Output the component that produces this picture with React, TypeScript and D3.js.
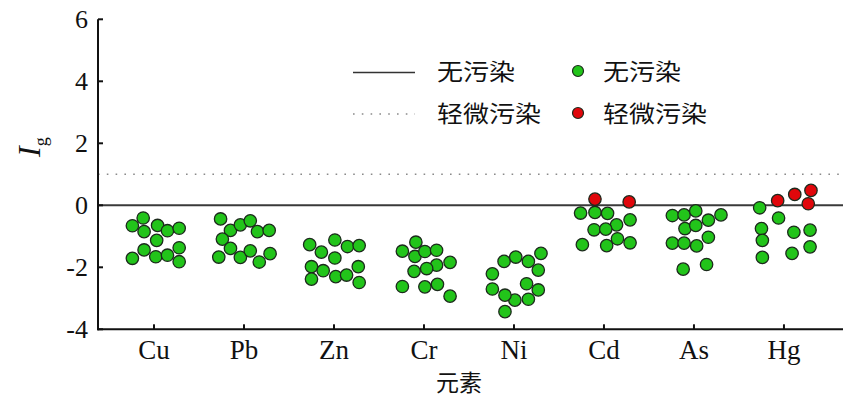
import * as d3 from "d3";

const ELEMENTS = ["Cu", "Pb", "Zn", "Cr", "Ni", "Cd", "As", "Hg"];

// Igeo values per element
const CU = [-0.66, -0.41, -0.85, -0.65, -0.82, -0.74, -1.13, -1.44, -1.71, -1.66, -1.61, -1.37, -1.82];
const PB = [-0.44, -0.81, -0.63, -0.5, -0.85, -0.81, -1.09, -1.39, -1.67, -1.68, -1.47, -1.83, -1.56];
const ZN = [-1.27, -1.51, -1.12, -1.33, -1.3, -1.7, -1.98, -2.11, -2.38, -2.3, -2.25, -1.98, -2.49];
const CR = [-1.19, -1.48, -1.65, -1.49, -1.45, -1.84, -1.93, -2.04, -2.13, -2.62, -2.63, -2.55, -2.93];
const NI = [-2.21, -1.81, -1.67, -1.81, -1.55, -2.09, -2.53, -2.73, -3.03, -3.06, -2.9, -2.7, -3.43];
const CD = [0.2, 0.11, -0.25, -0.23, -0.26, -0.63, -0.47, -0.79, -0.77, -1.08, -1.27, -1.3, -1.21];
const AS = [-0.33, -0.31, -0.18, -0.48, -0.31, -0.75, -0.65, -1.03, -1.22, -1.22, -1.31, -2.06, -1.91];
const HG = [0.15, 0.35, 0.48, 0.05, -0.08, -0.41, -0.75, -1.13, -1.68, -0.87, -0.8, -1.55, -1.34];

// horizontal jitter of each sample, in category units
const CU_J = [-0.24, -0.12, -0.11, 0.04, 0.15, 0.28, 0.03, -0.11, -0.24, 0.02, 0.15, 0.28, 0.28];
const PB_J = [-0.26, -0.15, -0.04, 0.07, 0.15, 0.28, -0.24, -0.15, -0.28, -0.04, 0.07, 0.17, 0.29];
const ZN_J = [-0.27, -0.14, 0.01, 0.15, 0.28, 0.01, -0.25, -0.12, -0.25, 0.02, 0.14, 0.27, 0.28];
const CR_J = [-0.09, -0.24, -0.1, 0.01, 0.14, 0.29, 0.14, 0.03, -0.11, -0.24, 0.01, 0.15, 0.29];
const NI_J = [-0.24, -0.11, 0.02, 0.16, 0.3, 0.27, 0.14, 0.27, 0.16, 0.01, -0.1, -0.24, -0.1];
const CD_J = [-0.1, 0.28, -0.26, -0.1, 0.04, 0.14, 0.29, -0.11, 0.02, 0.15, -0.24, 0.03, 0.29];
const AS_J = [-0.24, -0.11, 0.02, 0.16, 0.3, -0.1, 0.02, 0.16, -0.24, -0.11, 0.03, -0.12, 0.14];
const HG_J = [-0.07, 0.12, 0.3, 0.27, -0.27, -0.06, -0.25, -0.24, -0.24, 0.11, 0.29, 0.09, 0.29];

const VALUES = [CU, PB, ZN, CR, NI, CD, AS, HG];
const JITTER = [CU_J, PB_J, ZN_J, CR_J, NI_J, CD_J, AS_J, HG_J];

const Y_TICKS = [-4, -2, 0, 2, 4, 6];
const CLEAN_LEVEL = 0;
const SLIGHT_LEVEL = 1;
const LEGEND = ["无污染", "轻微污染"];

const GREEN = "#22c41a";
const RED = "#e0070b";
const SERIF = "'Liberation Serif', 'Times New Roman', serif";
const CJK = "'Noto Sans CJK SC', sans-serif";

export default function App() {
  const width = 850;
  const height = 399;
  const x = d3.scaleLinear().domain([-0.622, 7.656]).range([98, 843]);
  const y = d3.scaleLinear().domain([-4, 6]).range([329.3, 19.3]);

  const points = VALUES.flatMap((vals, i) =>
    vals.map((v, k) => ({ cx: x(i + JITTER[i][k]), cy: y(v), dirty: v > CLEAN_LEVEL }))
  );

  return (
    <svg width={width} height={height} style={{ position: "absolute", left: 0, top: 0, background: "#fff" }}>
      {/* reference lines */}
      <line x1={x.range()[0]} x2={x.range()[1]} y1={y(SLIGHT_LEVEL)} y2={y(SLIGHT_LEVEL)}
        stroke="#8a8a8a" strokeWidth={1.6} strokeDasharray="1.6,7.2" />
      <line x1={x.range()[0]} x2={x.range()[1]} y1={y(CLEAN_LEVEL)} y2={y(CLEAN_LEVEL)}
        stroke="#3a3a3a" strokeWidth={2} />

      {/* axes */}
      <line x1={98} x2={98} y1={y(6)} y2={y(-4) + 1} stroke="#111" strokeWidth={2} />
      <line x1={97} x2={x.range()[1]} y1={y(-4)} y2={y(-4)} stroke="#111" strokeWidth={2} />
      {Y_TICKS.map((t) => (
        <g key={t}>
          <line x1={98} x2={103} y1={y(t)} y2={y(t)} stroke="#111" strokeWidth={2} />
          <text x={88} y={y(t)} dy="0.35em" textAnchor="end" fontFamily={SERIF} fontSize={26} fill="#111">
            {t}
          </text>
        </g>
      ))}
      {ELEMENTS.map((e, i) => (
        <g key={e}>
          <line x1={x(i)} x2={x(i)} y1={y(-4)} y2={y(-4) - 5} stroke="#111" strokeWidth={2} />
          <text x={x(i)} y={359} textAnchor="middle" fontFamily={SERIF} fontSize={27} fill="#111">
            {e}
          </text>
        </g>
      ))}
      <text x={459} y={391} textAnchor="middle" fontFamily={CJK} fontSize={23} fill="#111">元素</text>
      <text transform="translate(40,157) rotate(-90)" fontFamily={SERIF} fill="#111">
        <tspan fontStyle="italic" fontSize={32}>I</tspan>
        <tspan fontSize={18} dy={7}>g</tspan>
      </text>

      {/* samples */}
      {points.map((p, i) => (
        <circle key={i} cx={p.cx} cy={p.cy} r={6.2} fill={p.dirty ? RED : GREEN} stroke="#1c2a1c" strokeWidth={1.3} />
      ))}

      {/* legend */}
      <line x1={353} x2={415} y1={72.5} y2={72.5} stroke="#333" strokeWidth={1.6} />
      <line x1={353} x2={415} y1={114} y2={114} stroke="#8a8a8a" strokeWidth={1.6} strokeDasharray="1.6,7.2" />
      <circle cx={578} cy={71} r={5.5} fill={GREEN} stroke="#1c2a1c" strokeWidth={1.2} />
      <circle cx={578} cy={113} r={5.5} fill={RED} stroke="#1c2a1c" strokeWidth={1.2} />
      {LEGEND.map((t, i) => (
        <g key={t}>
          <text x={437} y={72 + i * 42} dy="0.36em" fontFamily={CJK} fontSize={23} fill="#111"
            textLength={t.length * 26} lengthAdjust="spacingAndGlyphs">{t}</text>
          <text x={603} y={72 + i * 42} dy="0.36em" fontFamily={CJK} fontSize={23} fill="#111"
            textLength={t.length * 26} lengthAdjust="spacingAndGlyphs">{t}</text>
        </g>
      ))}
    </svg>
  );
}
